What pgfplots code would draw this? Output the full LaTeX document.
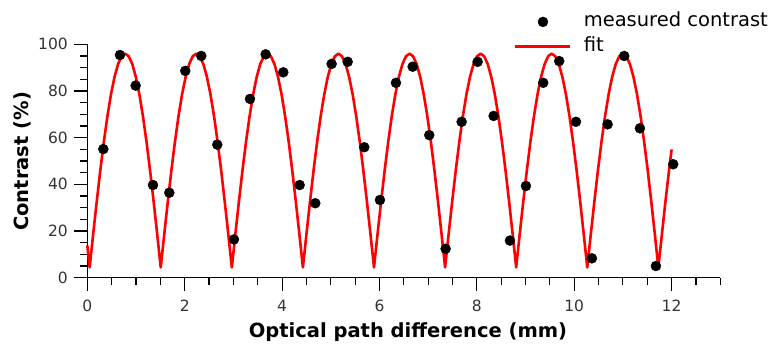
\documentclass[border=0pt]{standalone}
\usepackage{fontspec}
\setmainfont{DejaVu Sans}
\usepackage{pgfplots}
\pgfplotsset{compat=1.18}
\definecolor{ticklab}{RGB}{51,51,51}
\begin{document}
\begin{tikzpicture}
\begin{axis}[
  at={(0,0)}, anchor=south west,
  scale only axis, width=633pt, height=233.4pt,
  xmin=0, xmax=13, ymin=0, ymax=100,
  clip=false,
  axis lines=left,
  axis line style={-, line width=1.1pt, black},
  xtick={0,2,...,12},
  minor xtick={0.5,1,1.5,2.5,3,3.5,4.5,5,5.5,6.5,7,7.5,8.5,9,9.5,10.5,11,11.5,12.5,13},
  ytick={0,20,...,100},
  minor ytick={5,10,15,25,30,35,45,50,55,65,70,75,85,90,95},
  tick align=outside,
  major tick length=13pt, minor tick length=7pt,
  every tick/.style={black, line width=1.1pt},
  /pgf/number format/assume math mode=true,
  xticklabel style={font=\fontsize{15.5}{18}\selectfont, text=ticklab, inner sep=0pt, anchor=base, yshift=-20.8pt},
  yticklabel style={font=\fontsize{15.5}{18}\selectfont, text=ticklab, inner sep=0pt, anchor=east, xshift=-6.3pt},
  xlabel={Optical path difference (mm)},
  ylabel={Contrast (\%)},
  xlabel style={font=\fontsize{19.5}{23}\selectfont\bfseries, inner sep=0pt, at={(axis description cs:0.5066,-0.2554)}, anchor=base},
  ylabel style={font=\fontsize{19.5}{23}\selectfont\bfseries, inner sep=0pt, at={(axis description cs:-0.0921,0.498)}, anchor=base},
  legend style={at={(1.0754,1.1354)}, anchor=north east, draw=none, fill=none, inner sep=0pt,
    font=\fontsize{19.5}{23}\selectfont,
    nodes={inner sep=0pt, text height=14pt, text depth=4pt},
    row sep=6.8pt, column sep=12pt},
  legend cell align=left,
  legend image code/.code={\draw[mark repeat=2, mark phase=2, #1] plot coordinates {(0pt,0pt) (27.5pt,0pt) (55pt,0pt)};},
]
\addplot[only marks, mark=*, mark size=5pt, black, fill=black]
  table {
x y
0.329 55.1
0.671 95.4
0.993 82.3
1.349 39.7
1.684 36.4
2.012 88.6
2.341 95.0
2.669 57.0
3.012 16.4
3.341 76.6
3.663 95.7
4.025 88.0
4.361 39.7
4.682 31.9
5.018 91.6
5.347 92.5
5.688 55.9
6.010 33.3
6.339 83.5
6.682 90.4
7.023 61.1
7.359 12.4
7.688 66.8
8.016 92.5
8.345 69.3
8.680 15.9
9.008 39.3
9.363 83.5
9.692 92.8
10.035 66.8
10.363 8.3
10.686 65.7
11.027 95.0
11.349 64.0
11.678 5.0
12.033 48.6
};
\addlegendentry{measured contrast}
\addplot[red, line width=2.6pt, line join=round, no marks] table {
x y
0 13.84
0.048 4.4
0.121 18.73
0.194 32.70
0.267 45.99
0.340 58.24
0.413 69.17
0.486 78.50
0.559 86.02
0.632 91.52
0.705 94.87
0.778 96.0
0.851 94.87
0.924 91.52
0.997 86.02
1.070 78.50
1.143 69.17
1.216 58.24
1.289 45.99
1.362 32.70
1.435 18.73
1.508 4.4
1.581 18.73
1.654 32.70
1.727 45.99
1.800 58.24
1.873 69.17
1.946 78.50
2.019 86.02
2.092 91.52
2.165 94.87
2.238 96.0
2.311 94.87
2.384 91.52
2.457 86.02
2.530 78.50
2.603 69.17
2.676 58.24
2.749 45.99
2.822 32.70
2.895 18.73
2.968 4.4
3.041 18.73
3.114 32.70
3.187 45.99
3.260 58.24
3.333 69.17
3.406 78.50
3.479 86.02
3.552 91.52
3.625 94.87
3.698 96.0
3.771 94.87
3.844 91.52
3.917 86.02
3.990 78.50
4.063 69.17
4.136 58.24
4.209 45.99
4.282 32.70
4.355 18.73
4.428 4.4
4.501 18.73
4.574 32.70
4.647 45.99
4.720 58.24
4.793 69.17
4.866 78.50
4.939 86.02
5.012 91.52
5.085 94.87
5.158 96.0
5.231 94.87
5.304 91.52
5.377 86.02
5.450 78.50
5.523 69.17
5.596 58.24
5.669 45.99
5.742 32.70
5.815 18.73
5.888 4.4
5.961 18.73
6.034 32.70
6.107 45.99
6.180 58.24
6.253 69.17
6.326 78.50
6.399 86.02
6.472 91.52
6.545 94.87
6.618 96.0
6.691 94.87
6.764 91.52
6.837 86.02
6.910 78.50
6.983 69.17
7.056 58.24
7.129 45.99
7.202 32.70
7.275 18.73
7.348 4.4
7.421 18.73
7.494 32.70
7.567 45.99
7.640 58.24
7.713 69.17
7.786 78.50
7.859 86.02
7.932 91.52
8.005 94.87
8.078 96.0
8.151 94.87
8.224 91.52
8.297 86.02
8.370 78.50
8.443 69.17
8.516 58.24
8.589 45.99
8.662 32.70
8.735 18.73
8.808 4.4
8.881 18.73
8.954 32.70
9.027 45.99
9.100 58.24
9.173 69.17
9.246 78.50
9.319 86.02
9.392 91.52
9.465 94.87
9.538 96.0
9.611 94.87
9.684 91.52
9.757 86.02
9.830 78.50
9.903 69.17
9.976 58.24
10.049 45.99
10.122 32.70
10.195 18.73
10.268 4.4
10.341 18.73
10.414 32.70
10.487 45.99
10.560 58.24
10.633 69.17
10.706 78.50
10.779 86.02
10.852 91.52
10.925 94.87
10.998 96.0
11.071 94.87
11.144 91.52
11.217 86.02
11.290 78.50
11.363 69.17
11.436 58.24
11.509 45.99
11.582 32.70
11.655 18.73
11.728 4.4
11.801 18.73
11.874 32.70
11.947 45.99
12.0 54.96
};
\addlegendentry{fit}
\end{axis}
\pgfresetboundingbox
\path[use as bounding box] (-87.3pt,-66.3pt) rectangle (681.7pt,277.7pt);
\end{tikzpicture}
\end{document}
